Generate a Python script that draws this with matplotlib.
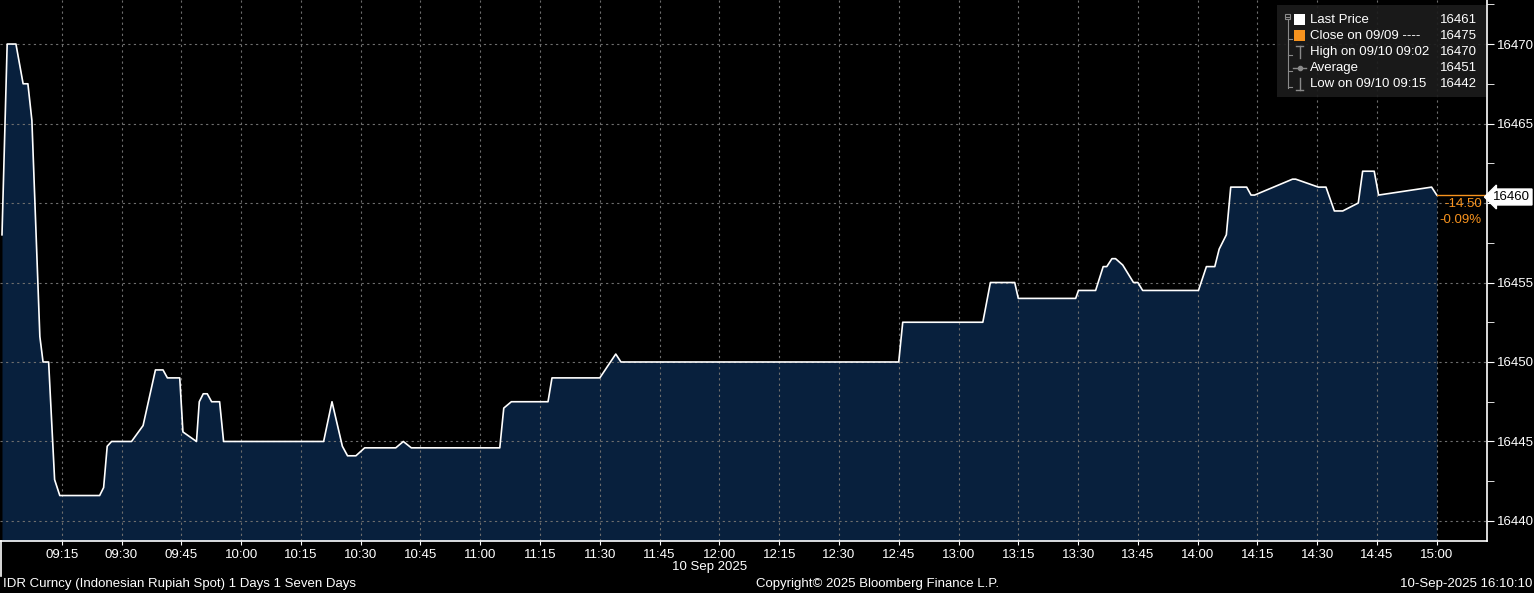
import matplotlib
matplotlib.use("Agg")
import matplotlib.pyplot as plt
from matplotlib.patches import Rectangle

# minutes after 09:00 on 10 Sep 2025, and IDR spot price
minutes = [0, 1.3, 3.5, 5.3, 6.5, 7.5, 9.5, 10.3, 11.7, 13.2, 14.5,
           24.5, 25.5, 26.4, 27.5,
           32.5, 35.4, 38.5, 40.4, 41.5, 44.6, 45.4, 48.8,
           49.5, 50.5, 51.5, 52.6, 54.6, 55.6,
           80.7, 82.8, 85.4, 86.7, 88.8, 91.0, 98.8, 100.7, 102.7,
           124.9, 125.9, 127.8, 137.0, 138.0, 150.0, 154.0, 155.3,
           225.0, 226.0,
           246.1, 248.0, 254.1, 255.0, 269.4, 270.1, 274.4, 276.3,
           277.2, 278.5, 279.4, 281.2, 283.9, 285.0, 286.2, 300.2,
           302.2, 304.3, 305.4, 307.2, 308.3, 312.3, 313.4, 314.3,
           323.8, 324.6, 330.3, 332.2, 334.3, 336.4, 340.3, 341.4,
           344.3, 345.4, 358.7, 360.0]
price = [16458, 16470, 16470, 16467.5, 16467.5, 16465.2, 16451.6, 16450, 16450, 16442.6, 16441.6,
         16441.6, 16442.1, 16444.7, 16445,
         16445, 16446, 16449.5, 16449.5, 16449, 16449, 16445.6, 16445,
         16447.5, 16448, 16448, 16447.5, 16447.5, 16445,
         16445, 16447.5, 16444.7, 16444.1, 16444.1, 16444.6, 16444.6, 16445, 16444.6,
         16444.6, 16447.1, 16447.5, 16447.5, 16449, 16449, 16450.5, 16450,
         16450, 16452.5,
         16452.5, 16455, 16455, 16454, 16454, 16454.5, 16454.5, 16456,
         16456, 16456.5, 16456.5, 16456.1, 16455, 16455, 16454.5, 16454.5,
         16456, 16456, 16457.1, 16458, 16461, 16461, 16460.5, 16460.5,
         16461.5, 16461.5, 16461, 16461, 16459.5, 16459.5, 16460, 16462,
         16462, 16460.5, 16461, 16460.5]

prev_close = 16475
legend_labels = ["Last Price", "Close on 09/09 ----", "High on 09/10 09:02", "Average", "Low on 09/10 09:15"]
legend_values = ["16461", "16475", "16470", "16451", "16442"]
x_ticks = list(range(15, 361, 15))
y_ticks = [16440, 16445, 16450, 16455, 16460, 16465, 16470]

NAVY = "#08203d"
ORANGE = "#f7931e"
GRID = "#6e6e6e"
FONT = "Liberation Sans"
W, H = 1534, 593

fig = plt.figure(figsize=(W / 100, H / 100), dpi=100, facecolor="black")
ax = fig.add_axes([0, 1 - 541 / H, 1487 / W, 541 / H])
ax.set_facecolor("black")

ymin, ymax = 16438.74, 16472.77
xmin, xmax = -0.5, 372.6
ax.set_xlim(xmin, xmax)
ax.set_ylim(ymin, ymax)

ax.fill_between(minutes, price, ymin, color=NAVY, zorder=1, linewidth=0)
ax.plot(minutes, price, color="white", lw=1.2, zorder=4)

# last price marker line to the axis
last = price[-1]
ax.plot([minutes[-1], xmax], [last, last], color=ORANGE, lw=1, zorder=4, clip_on=False)

ax.set_xticks(x_ticks)
ax.set_xticklabels([f"{9 + m // 60:02d}:{m % 60:02d}" for m in x_ticks])
ax.set_yticks(y_ticks)
# the 16460 label sits under the last-price box
ax.set_yticklabels(["" if v == 16460 else str(v) for v in y_ticks])
ax.set_yticks([v + 2.5 for v in y_ticks], minor=True)
ax.yaxis.tick_right()
ax.grid(True, color=GRID, linestyle=(0, (2, 3)), linewidth=0.8, zorder=3)
ax.set_axisbelow(False)

for s in ["left", "top"]:
    ax.spines[s].set_visible(False)
for s in ["right", "bottom"]:
    ax.spines[s].set_color("white")
    ax.spines[s].set_linewidth(1.2)
    ax.spines[s].set_zorder(5)

ax.tick_params(axis="x", colors="white", labelsize=9.5, length=3, pad=3)
ax.tick_params(axis="y", which="major", colors="white", labelsize=9.5, length=5, pad=2)
ax.tick_params(axis="y", which="minor", colors="white", length=5)
for lab in ax.get_xticklabels() + ax.get_yticklabels():
    lab.set_fontfamily(FONT)

# overlay in pixel coordinates for annotations
ov = fig.add_axes([0, 0, 1, 1], facecolor="none")
ov.set_xlim(0, W)
ov.set_ylim(H, 0)
ov.axis("off")

txt = dict(color="white", fontsize=9.5, family=FONT, va="center")

# date divider and label
ov.plot([0.5, 0.5], [541, 576], color="white", lw=1.2)
ov.text(710, 567, "10 Sep 2025", ha="center", **txt)

# footer
ov.text(3, 584, "IDR Curncy (Indonesian Rupiah Spot) 1 Days 1 Seven Days", ha="left", **txt)
ov.text(877, 584, "Copyright\u00a9 2025 Bloomberg Finance L.P.", ha="center", **txt)
ov.text(1532, 584, "10-Sep-2025 16:10:10", ha="right", **txt)

# last price box and change
ov.text(1493, 197, f"{last:.0f}", color="black", fontsize=9.5, family=FONT, va="center", ha="left",
        bbox=dict(boxstyle="larrow,pad=0.15", fc="white", ec="white"), zorder=10)
chg = last - prev_close
ov.text(1482, 204, f"{chg:.2f}", color=ORANGE, fontsize=9.5, family=FONT, ha="right", va="center")
ov.text(1482, 220, f"{chg / prev_close * 100:.2f}%", color=ORANGE, fontsize=9.5, family=FONT,
        ha="right", va="center")

# legend box
ov.add_patch(Rectangle((1277, 5), 209, 92, fc="#1c1c1c", ec="none", alpha=0.92, zorder=6))
rows = [20, 36, 52, 68, 84]
tree = "#8a8a8a"
ov.add_patch(Rectangle((1285, 14), 5, 5, fc="none", ec=tree, lw=0.8, zorder=7))
ov.plot([1286, 1289], [16.5, 16.5], color=tree, lw=0.8, zorder=7)
ov.plot([1287.5, 1287.5], [20, 88], color=tree, lw=0.8, zorder=7)
for r in rows[1:]:
    ov.plot([1287.5, 1292], [r + 3, r + 3], color=tree, lw=0.8, zorder=7)
ov.add_patch(Rectangle((1294, 14), 11, 11, fc="white", ec="none", zorder=7))
ov.add_patch(Rectangle((1294, 30), 11, 11, fc=ORANGE, ec="none", zorder=7))
# high icon
ov.plot([1296, 1303], [46, 46], color=tree, lw=1, zorder=7)
ov.plot([1299.5, 1299.5], [46, 58], color=tree, lw=1, zorder=7)
# average icon
ov.plot([1293, 1306], [68, 68], color=tree, lw=1, zorder=7)
ov.plot([1299.5], [68], marker="o", ms=3, color=tree, zorder=7)
# low icon
ov.plot([1299.5, 1299.5], [78, 90], color=tree, lw=1, zorder=7)
ov.plot([1296, 1303], [90, 90], color=tree, lw=1, zorder=7)

for r, lab, val in zip(rows, legend_labels, legend_values):
    ov.text(1310, r, lab, ha="left", zorder=8, **txt)
    ov.text(1440, r, val, ha="left", zorder=8, **txt)

fig.savefig("out.png", dpi=100, facecolor="black")
